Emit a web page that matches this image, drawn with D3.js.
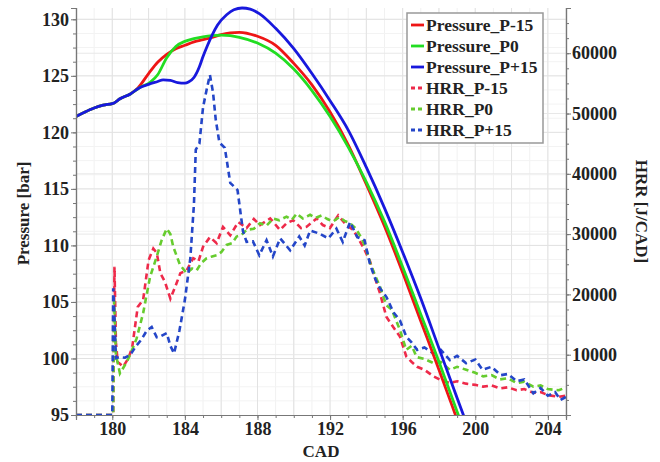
<!DOCTYPE html>
<html>
<head>
<meta charset="utf-8">
<script src="https://cdn.jsdelivr.net/npm/d3@7/dist/d3.min.js"></script>
<style>
  body { margin: 0; background: #fff; }
  text { font-family: "Liberation Serif", "Times New Roman", serif; font-weight: bold; fill: #222; }
</style>
</head>
<body>
<script>
// pressure traces [CAD, bar]
var pressM15 = [[178,121.4],[178.5,121.8],[179,122.15],[179.5,122.4],[180,122.55],[180.1,122.6],[180.4,122.95],[181,123.4],[181.4,123.9],[182,125.2],[182.5,126.2],[183,126.9],[183.5,127.4],[184,127.7],[184.5,128.0],[185,128.2],[185.5,128.4],[186,128.65],[186.5,128.8],[187,128.85],[188,128.5],[189,127.7],[190,126.1],[191,124.2],[192,121.8],[193,118.9],[194,115.4],[195,111.7],[196,107.6],[197,103.3],[198,99.0],[199,94.6],[199.5,92.4]];
var pressP0 = [[178,121.4],[178.5,121.8],[179,122.15],[179.5,122.4],[180,122.55],[180.1,122.6],[180.4,122.95],[181,123.4],[181.5,123.95],[182.1,124.45],[182.5,125.1],[183,126.6],[183.5,127.6],[184,128.05],[184.5,128.3],[185,128.45],[185.5,128.55],[186,128.6],[186.5,128.55],[187,128.4],[188,127.9],[189,127.0],[190,125.6],[191,123.7],[192,121.4],[193,118.7],[194,115.6],[195,112.1],[196,108.1],[197,103.9],[198,99.7],[199,95.3],[199.5,93.1]];
var pressP15 = [[178,121.4],[178.5,121.8],[179,122.15],[179.5,122.4],[180,122.55],[180.1,122.6],[180.4,122.95],[181,123.4],[181.5,123.95],[182,124.25],[182.5,124.5],[182.8,124.65],[183.2,124.6],[183.6,124.4],[184,124.35],[184.2,124.45],[184.5,124.85],[184.8,125.8],[185,126.7],[185.25,127.7],[185.5,128.6],[185.8,129.5],[186.3,130.4],[186.7,130.85],[187.15,131.0],[187.6,130.9],[188.1,130.5],[189,129.2],[190,127.4],[191,125.2],[192,122.8],[193,120.2],[194,116.9],[195,113.3],[196,109.4],[197,105.3],[198,100.9],[199,96.5],[199.6,93.9]];

// heat release rate traces [CAD, J/CAD]
var hrrM15 = [[178,0],[180.05,0],[180.12,24600],[180.2,12000],[180.3,8800],[180.6,8000],[180.9,9500],[181.1,11300],[181.4,17900],[181.7,19100],[182.0,25700],[182.26,27600],[182.45,26900],[182.65,23500],[182.9,22100],[183.2,19300],[183.47,21300],[183.75,23500],[184.1,24000],[184.46,26000],[184.75,25500],[185.0,27900],[185.38,29500],[185.75,28500],[186.1,31200],[186.5,29800],[186.94,32000],[187.4,31000],[187.8,32500],[188.14,31500],[188.7,32600],[189.24,30700],[189.6,31800],[189.97,32300],[190.4,31000],[190.7,31200],[191.26,32600],[191.6,31500],[191.99,31000],[192.45,33100],[192.9,31500],[193.28,30700],[193.55,29300],[193.9,27400],[194.2,25500],[194.5,22500],[194.75,20200],[195.1,16300],[195.5,14500],[195.85,13000],[196.2,9700],[196.5,8800],[196.8,8000],[197.2,7500],[197.7,6400],[198.1,5800],[198.6,5300],[199.0,5600],[199.5,5200],[200.0,5000],[200.44,4700],[200.9,4900],[201.36,4400],[201.8,4600],[202.28,4100],[202.7,4300],[203.2,3700],[203.6,3800],[204.0,3300],[204.6,3000],[205,3200]];
var hrrP0 = [[178,0],[180.05,0],[180.1,19000],[180.2,10000],[180.42,6900],[180.8,8800],[181.05,10500],[181.34,12700],[181.7,16900],[182.08,22900],[182.44,26200],[182.72,29000],[183.0,30900],[183.2,30000],[183.36,27900],[183.73,24900],[184.1,23500],[184.4,24300],[184.65,24000],[184.9,25200],[185.2,26000],[185.5,26300],[185.75,26500],[186.0,27000],[186.3,28200],[186.6,28500],[186.85,29600],[187.1,29800],[187.4,30700],[187.8,30900],[188.14,31800],[188.5,31400],[188.87,32600],[189.2,32300],[189.6,32900],[189.9,32400],[190.16,33400],[190.5,32600],[190.9,33200],[191.2,32700],[191.53,33100],[191.85,32500],[192.17,32100],[192.5,32800],[192.8,32200],[193.1,31800],[193.4,31000],[193.74,29300],[194.0,27400],[194.2,25300],[194.5,23000],[194.75,21300],[195.1,18200],[195.4,17500],[195.85,14100],[196.2,10800],[196.5,11500],[196.77,9600],[197.2,9300],[197.7,8600],[198.1,8800],[198.6,7500],[199.0,8000],[199.5,7500],[200.0,7000],[200.44,6400],[200.9,6600],[201.36,5900],[201.8,6100],[202.28,5300],[202.7,5500],[203.2,4700],[203.6,4900],[204.0,4300],[204.6,4100],[205,4600]];
var hrrP15 = [[178,0],[180.0,0],[180.05,21000],[180.12,16000],[180.2,9400],[180.4,9600],[180.7,9500],[181.0,10000],[181.3,11400],[181.6,12500],[181.9,14000],[182.17,14600],[182.45,12900],[182.7,13100],[183.0,13600],[183.2,11500],[183.4,10200],[183.7,14000],[184.0,19100],[184.3,26000],[184.5,35000],[184.6,44000],[184.8,45000],[185.0,51000],[185.2,54000],[185.38,56400],[185.55,53500],[185.7,49000],[185.9,45200],[186.2,44300],[186.5,38500],[186.9,37300],[187.2,30500],[187.4,28700],[187.75,28800],[188.1,26500],[188.5,29000],[188.85,26300],[189.25,29300],[189.8,27300],[190.3,29600],[190.6,28100],[190.9,30600],[191.4,30100],[191.9,29300],[192.35,30900],[192.7,28700],[193.1,32000],[193.5,29500],[193.9,29000],[194.2,25000],[194.5,22500],[194.75,21000],[195.1,19600],[195.5,17000],[195.85,15700],[196.2,13000],[196.5,12000],[196.8,10800],[197.2,11200],[197.7,10200],[198.1,10800],[198.6,9100],[199.0,9800],[199.5,8600],[200.0,9200],[200.4,7500],[200.9,8000],[201.4,6600],[201.8,6800],[202.3,5600],[202.7,5900],[203.2,3600],[203.6,4500],[204.0,3200],[204.4,3800],[204.7,2500],[205,3000]];

var seriesNames = ["Pressure_P-15", "Pressure_P0", "Pressure_P+15", "HRR_P-15", "HRR_P0", "HRR_P+15"];
var cadTicks = [180, 184, 188, 192, 196, 200, 204];
var pressTicks = [95, 100, 105, 110, 115, 120, 125, 130];
var hrrTicks = [10000, 20000, 30000, 40000, 50000, 60000];

(function () {
    var width = 660, height = 462;
    var left = 76, right = 566, top = 8, bottom = 415;

    var svg = d3.select("body").append("svg")
        .attr("width", width)
        .attr("height", height);

    var x = d3.scaleLinear().domain([178, 205]).range([left, right]);
    var yP = d3.scaleLinear().domain([95, 131]).range([bottom, top]);
    var yH = d3.scaleLinear().domain([0, 67500]).range([bottom, top]);

    //grid
    var grid = svg.append("g").attr("class", "grid");
    grid.selectAll(".vminor").data(d3.range(179, 206, 1))
        .enter().append("line")
        .attr("x1", function (d) { return x(d); }).attr("x2", function (d) { return x(d); })
        .attr("y1", top).attr("y2", bottom)
        .style("stroke", "#f1f1f1");
    grid.selectAll(".hminor").data(d3.range(96.25, 131, 1.25))
        .enter().append("line")
        .attr("x1", left).attr("x2", right)
        .attr("y1", function (d) { return yP(d); }).attr("y2", function (d) { return yP(d); })
        .style("stroke", "#f3f3f3");
    grid.selectAll(".vmajor").data(d3.range(180, 206, 2))
        .enter().append("line")
        .attr("x1", function (d) { return x(d); }).attr("x2", function (d) { return x(d); })
        .attr("y1", top).attr("y2", bottom)
        .style("stroke", "#e2e2e2");
    grid.selectAll(".hmajorP").data(pressTicks.slice(1))
        .enter().append("line")
        .attr("x1", left).attr("x2", right)
        .attr("y1", function (d) { return yP(d); }).attr("y2", function (d) { return yP(d); })
        .style("stroke", "#e2e2e2");
    grid.selectAll(".hmajorH").data(hrrTicks)
        .enter().append("line")
        .attr("x1", left).attr("x2", right)
        .attr("y1", function (d) { return yH(d); }).attr("y2", function (d) { return yH(d); })
        .style("stroke", "#e8e8e8");

    //clip so curves stop at the bottom axis
    svg.append("clipPath").attr("id", "plotClip")
        .append("rect").attr("x", left).attr("y", 0)
        .attr("width", right - left).attr("height", bottom);

    var plot = svg.append("g").attr("clip-path", "url(#plotClip)");

    var hrrLine = d3.line()
        .x(function (d) { return x(d[0]); })
        .y(function (d) { return yH(d[1]); });
    var pressLine = d3.line()
        .curve(d3.curveMonotoneX)
        .x(function (d) { return x(d[0]); })
        .y(function (d) { return yP(d[1]); });

    var hrrSeries = [
        { data: hrrM15, color: "#ee2a4a" },
        { data: hrrP0, color: "#66cc2e" },
        { data: hrrP15, color: "#2446c8" }
    ];
    var pressSeries = [
        { data: pressM15, color: "#ee1515" },
        { data: pressP0, color: "#22dd22" },
        { data: pressP15, color: "#1818dd" }
    ];

    plot.selectAll(".hrr").data(hrrSeries)
        .enter().append("path")
        .attr("class", "hrr")
        .attr("d", function (d) { return hrrLine(d.data); })
        .style("fill", "none")
        .style("stroke", function (d) { return d.color; })
        .style("stroke-width", 2.6)
        .style("stroke-dasharray", "6,4");

    plot.selectAll(".press").data(pressSeries)
        .enter().append("path")
        .attr("class", "press")
        .attr("d", function (d) { return pressLine(d.data); })
        .style("fill", "none")
        .style("stroke", function (d) { return d.color; })
        .style("stroke-width", 2.8)
        .style("stroke-linejoin", "round");

    //axes
    var axisColor = "#777";
    function styleAxis(g) {
        g.selectAll(".domain").style("stroke", axisColor).style("stroke-width", 1.2);
        g.selectAll(".tick line").style("stroke", axisColor);
        g.selectAll("text").style("font-size", "18px").style("font-family", null);
    }

    //minor ticks
    svg.append("g").attr("transform", "translate(0," + bottom + ")")
        .call(d3.axisBottom(x).tickValues(d3.range(178, 206, 1)).tickSize(3).tickFormat(""))
        .call(styleAxis);
    svg.append("g").attr("transform", "translate(" + left + ",0)")
        .call(d3.axisLeft(yP).tickValues(d3.range(95, 131.1, 1.25)).tickSize(3).tickFormat(""))
        .call(styleAxis);
    svg.append("g").attr("transform", "translate(" + right + ",0)")
        .call(d3.axisRight(yH).tickValues(d3.range(0, 67500, 2500)).tickSize(3).tickFormat(""))
        .call(styleAxis);

    //major ticks
    svg.append("g").attr("transform", "translate(0," + bottom + ")")
        .call(d3.axisBottom(x).tickValues(cadTicks).tickSize(5).tickPadding(2))
        .call(styleAxis);
    svg.append("g").attr("transform", "translate(" + left + ",0)")
        .call(d3.axisLeft(yP).tickValues(pressTicks).tickSize(5).tickPadding(2))
        .call(styleAxis);
    svg.append("g").attr("transform", "translate(" + right + ",0)")
        .call(d3.axisRight(yH).tickValues(hrrTicks).tickSize(5).tickPadding(1).tickFormat(d3.format("d")))
        .call(styleAxis);

    //axis titles
    svg.append("text")
        .attr("transform", "translate(29," + ((top + bottom) / 2 + 2) + ") rotate(-90)")
        .attr("text-anchor", "middle")
        .style("font-size", "17px")
        .text("Pressure [bar]");
    svg.append("text")
        .attr("transform", "translate(636," + ((top + bottom) / 2) + ") rotate(90)")
        .attr("text-anchor", "middle")
        .style("font-size", "17px")
        .text("HRR [J/CAD]");
    svg.append("text")
        .attr("x", (left + right) / 2)
        .attr("y", 457)
        .attr("text-anchor", "middle")
        .style("font-size", "17px")
        .text("CAD");

    //legend
    var legendColors = ["#ee1515", "#22dd22", "#1818dd", "#ee2a4a", "#66cc2e", "#2446c8"];
    var legend = svg.append("g").attr("transform", "translate(407,13)");
    legend.append("rect")
        .attr("width", 136).attr("height", 130)
        .style("fill", "#fff")
        .style("stroke", "#999")
        .style("stroke-width", 1.5);
    var items = legend.selectAll(".item").data(seriesNames)
        .enter().append("g")
        .attr("transform", function (d, i) { return "translate(0," + (12 + i * 21) + ")"; });
    items.append("line")
        .attr("x1", 4).attr("x2", 17)
        .attr("y1", 0).attr("y2", 0)
        .style("stroke", function (d, i) { return legendColors[i]; })
        .style("stroke-width", 2.8)
        .style("stroke-dasharray", function (d, i) { return i < 3 ? null : "4,3"; });
    items.append("text")
        .attr("x", 19).attr("y", 6)
        .style("font-size", "17.5px")
        .text(function (d) { return d; });
})();
</script>
</body>
</html>
